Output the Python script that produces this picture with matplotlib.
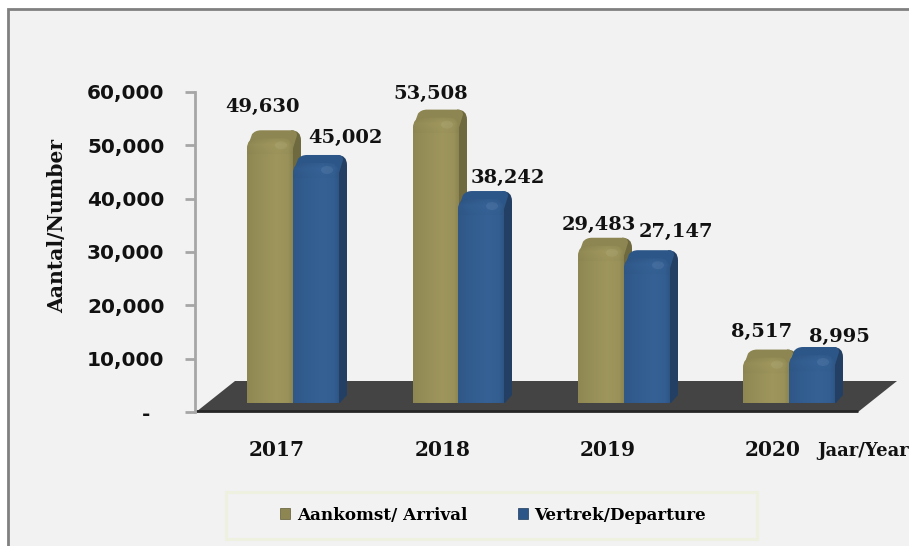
import numpy as np
import matplotlib
matplotlib.use("Agg")
import matplotlib.pyplot as plt
from matplotlib.patches import PathPatch, Polygon, Rectangle, Patch, Ellipse
from matplotlib.path import Path
from matplotlib.transforms import IdentityTransform

W, H = 909, 546

years = ["2017", "2018", "2019", "2020"]
arrivals = [49630, 53508, 29483, 8517]
departures = [45002, 38242, 27147, 8995]
series_names = ["Aankomst/ Arrival", "Vertrek/Departure"]
y_ticks = [0, 10000, 20000, 30000, 40000, 50000, 60000]
y_tick_labels = ["-\u00a0\u00a0", "10,000", "20,000", "30,000", "40,000", "50,000", "60,000"]

# label offsets from the bar centre / top, in pixels
arrival_offsets = [(-8, 31), (-5, 24), (-2, 21), (-5, 26)]
departure_offsets = [(29, 25), (26, 21), (29, 26), (28, 18)]

GOLD = {"front": (0.60, 0.57, 0.35), "top": "#8d8652", "side": "#6e693e"}
BLUE = {"front": (0.20, 0.37, 0.57), "top": "#2c5688", "side": "#234064"}

BAR_W = 0.278
DEPTH = 8          # depth of the fake 3d, pixels
FLOOR = 1690       # bars stand on the floor, a bit above the axis zero


def px_y(y):
    return H - y


def rounded_top(x0, x1, y0, y1, r):
    verts = [(x0, y0), (x0, y1 - r), (x0, y1), (x0 + r, y1), (x1 - r, y1),
             (x1, y1), (x1, y1 - r), (x1, y0), (x0, y0)]
    codes = [Path.MOVETO, Path.LINETO, Path.CURVE3, Path.CURVE3, Path.LINETO,
             Path.CURVE3, Path.CURVE3, Path.LINETO, Path.CLOSEPOLY]
    return Path(verts, codes)


def draw_bar(ax, x, value, style):
    (x0, y0), (x1, y1) = ax.transData.transform(
        [(x - BAR_W / 2, FLOOR), (x + BAR_W / 2, value + FLOOR)])
    x0, x1 = round(x0), round(x1)
    r = 10
    no = IdentityTransform()

    # right side
    side = [(x1 - 2, y0), (x1 + 1, y0), (x1 + DEPTH, y0 + DEPTH),
            (x1 + DEPTH, y1 + DEPTH - r), (x1 + DEPTH, y1 + DEPTH),
            (x1 + DEPTH - r, y1 + DEPTH), (x1 - 2, y1), (x1 - 2, y0)]
    codes = [Path.MOVETO, Path.LINETO, Path.LINETO, Path.LINETO,
             Path.CURVE3, Path.CURVE3, Path.LINETO, Path.CLOSEPOLY]
    ax.add_patch(PathPatch(Path(side, codes), fc=style["side"], ec="none",
                           transform=no, clip_on=False, zorder=3))

    # top
    top = [(x0, y1 - r), (x0 + DEPTH - 3, y1 + DEPTH - 4), (x0 + DEPTH, y1 + DEPTH),
           (x0 + DEPTH + 6, y1 + DEPTH), (x1 + DEPTH - 9, y1 + DEPTH),
           (x1 + DEPTH - 4, y1 + DEPTH), (x1 + DEPTH - 4, y1 + DEPTH - 5),
           (x1, y1 - r), (x0, y1 - r)]
    codes = [Path.MOVETO, Path.LINETO, Path.CURVE3, Path.CURVE3, Path.LINETO,
             Path.CURVE3, Path.CURVE3, Path.LINETO, Path.CLOSEPOLY]
    ax.add_patch(PathPatch(Path(top, codes), fc=style["top"], ec="none", transform=no,
                           clip_on=False, zorder=3))

    # front face with shading
    clip = PathPatch(rounded_top(x0, x1, y0, y1, r), fc="none", ec="none",
                     transform=no)
    ax.add_patch(clip)
    h = max(int(y1 - y0), 2)
    across = np.interp(np.linspace(0, 1, 46), [0, 0.2, 0.65, 0.9, 1], [0.93, 0.97, 1.03, 1.0, 0.92])
    down = np.ones(h)
    down[:16] = np.interp(np.arange(16), [0, 6, 16], [0.95, 1.01, 0.98])
    shade = np.outer(down, across)[:, :, None]
    img = np.clip(shade * np.array(style["front"]), 0, 1)
    (ex0, ey0), (ex1, ey1) = ax.transData.inverted().transform([(x0, y0), (x1, y1)])
    im = ax.imshow(img, extent=(ex0, ex1, ey0, ey1), origin="upper", aspect="auto",
                   zorder=4, interpolation="bilinear")
    im.set_clip_path(clip)
    glow = Ellipse((x1 - 12, y1 - 7), 12, 8, fc="white", ec="none", alpha=0.07,
                   transform=no, zorder=5)
    ax.add_patch(glow)
    return x1


fig = plt.figure(figsize=(W / 100, H / 100), dpi=100, facecolor="white")
fig.add_artist(Rectangle((8 / W, -0.1), 1.1, 0.1 + (H - 9) / H, transform=fig.transFigure,
                         fc="#f2f2f2", ec="#808080", lw=2, zorder=-1))

ax = fig.add_axes([195 / W, (H - 412) / H, (W - 195) / W, 320 / H])
ax.patch.set_visible(False)
ax.set_ylim(0, 60000)
ax.set_xlim(-103 / 165.3, (909 - 298) / 165.3)

for s in ["top", "right", "bottom"]:
    ax.spines[s].set_visible(False)
ax.spines["left"].set_color("#a6a6a6")
ax.spines["left"].set_linewidth(2)

ax.set_yticks(y_ticks)
ax.set_yticklabels(y_tick_labels, fontfamily="DejaVu Sans", fontweight="bold",
                   fontsize=14.4, color="#111111")
ax.tick_params(axis="y", length=7, width=2, color="#a6a6a6", pad=15)

# year labels sit left of the bars, under the front edge of the floor
ax.set_xticks(np.arange(len(years)) - 0.127)
ax.set_xticklabels(years, fontfamily="DejaVu Serif", fontweight="bold", fontsize=14.5, color="#111111")
ax.tick_params(axis="x", length=0, pad=20)

ax.set_ylabel("Aantal/Number", fontfamily="DejaVu Serif", fontweight="bold", fontsize=14.6,
              color="#111111", labelpad=0)
ax.yaxis.set_label_coords((67 - 195) / (W - 195), 0.58)

# floor
floor = [(196, px_y(412)), (235, px_y(381)), (897, px_y(381)), (858, px_y(412))]
ax.add_patch(Polygon(floor, fc="#444444", ec="none", transform=IdentityTransform(),
                     clip_on=False, zorder=1))
ax.plot([196, 858], [px_y(411), px_y(411)], color="#262626", lw=2,
        transform=IdentityTransform(), clip_on=False, zorder=2, solid_capstyle="butt")

fig.canvas.draw()
for i in range(len(years)):
    ga = i - 0.167
    gb = i + 0.109
    draw_bar(ax, ga, arrivals[i], GOLD)
    draw_bar(ax, gb, departures[i], BLUE)
    ax.annotate(f"{arrivals[i]:,}", (ga, arrivals[i] + FLOOR), xytext=arrival_offsets[i],
                textcoords="offset pixels", ha="center", va="center", fontfamily="DejaVu Serif",
                fontweight="bold", fontsize=14, color="#111111", zorder=6)
    ax.annotate(f"{departures[i]:,}", (gb, departures[i] + FLOOR), xytext=departure_offsets[i],
                textcoords="offset pixels", ha="center", va="center", fontfamily="DejaVu Serif",
                fontweight="bold", fontsize=14, color="#111111", zorder=6)

ax.set_xlim(-103 / 165.3, (909 - 298) / 165.3)
ax.set_ylim(0, 60000)

fig.text(817 / W, (H - 451) / H, "Jaar/Year", fontfamily="DejaVu Serif", fontweight="bold",
         fontsize=13, color="#111111", va="center", ha="left")

# legend box is wider than its contents, so the frame is drawn on its own
fig.add_artist(Rectangle((226 / W, (H - 539) / H), 531 / W, 47 / H, transform=fig.transFigure,
                         fc="none", ec="#eef0e0", lw=2.2, zorder=-0.5))
handles = [Patch(fc="#8d8652", ec="#5e5a33", lw=0.5), Patch(fc="#2c5688", ec="#1d3a5c", lw=0.5)]
leg = fig.legend(handles, series_names, ncol=2, loc="center",
                 bbox_to_anchor=(493 / W, (H - 515) / H), bbox_transform=fig.transFigure,
                 prop={"family": "DejaVu Serif", "weight": "bold", "size": 12.1},
                 handlelength=0.6, handleheight=0.6, handletextpad=0.4, columnspacing=3.0,
                 frameon=False, borderaxespad=0)

fig.savefig("out.png", dpi=100, facecolor=fig.get_facecolor())
